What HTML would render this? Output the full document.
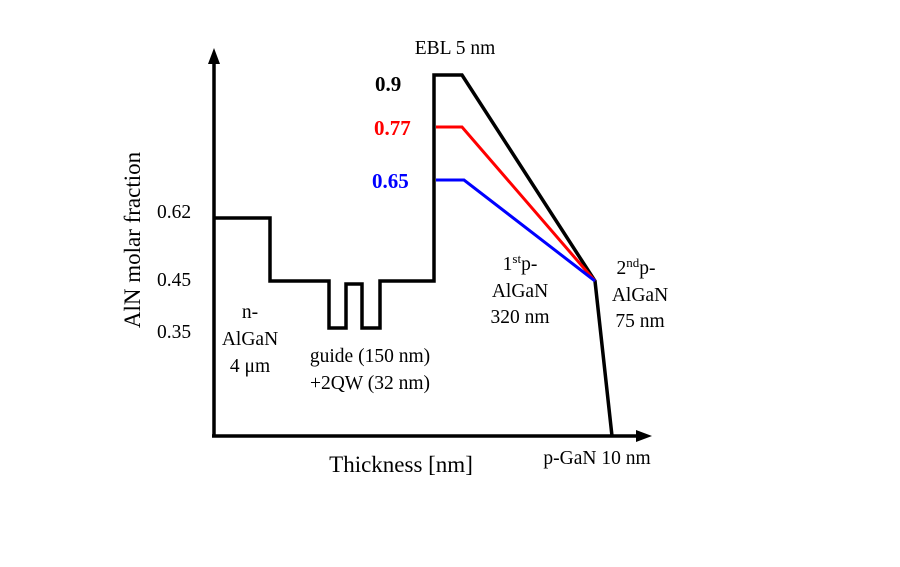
<!DOCTYPE html>
<html><head><style>
body{margin:0;background:#fff;}
svg{display:block;font-family:"Liberation Serif",serif;}
</style></head><body>
<svg width="900" height="567" viewBox="0 0 900 567">
<g stroke="#000" stroke-width="3.5" fill="none">
<line x1="214" y1="60" x2="214" y2="436"/>
<line x1="212" y1="436" x2="640" y2="436"/>
<polyline points="214,218 270,218 270,281 329,281 329,328 346,328 346,284 362,284 362,328 380,328 380,281 434,281 434,75 462,75 595,281 612,436" stroke-linejoin="miter"/>
</g>
<polygon points="214,48 208,64 220,64" fill="#000"/>
<polygon points="652,436 636,430 636,442" fill="#000"/>
<polyline points="436,127 462,127 595,281" stroke="#f00" stroke-width="3" fill="none"/>
<polyline points="436,180 464,180 595,281" stroke="#00f" stroke-width="3" fill="none"/>
<g font-size="21" font-weight="bold">
<text x="375" y="91">0.9</text>
<text x="374" y="135" fill="#f00">0.77</text>
<text x="372" y="188" fill="#00f">0.65</text>
</g>
<g font-size="19.5">
<text x="157" y="218">0.62</text>
<text x="157" y="286">0.45</text>
<text x="157" y="338">0.35</text>
<text x="455" y="54" text-anchor="middle">EBL 5 nm</text>
<text x="250" y="318" text-anchor="middle">n-</text>
<text x="250" y="345" text-anchor="middle">AlGaN</text>
<text x="250" y="372" text-anchor="middle">4 μm</text>
<text x="370" y="362" text-anchor="middle">guide (150 nm)</text>
<text x="370" y="389" text-anchor="middle">+2QW (32 nm)</text>
<text x="520" y="270" text-anchor="middle">1<tspan font-size="13" dy="-7">st</tspan><tspan dy="7">p-</tspan></text>
<text x="520" y="297" text-anchor="middle">AlGaN</text>
<text x="520" y="323" text-anchor="middle">320 nm</text>
<text x="636" y="274" text-anchor="middle">2<tspan font-size="13" dy="-7">nd</tspan><tspan dy="7">p-</tspan></text>
<text x="640" y="301" text-anchor="middle">AlGaN</text>
<text x="640" y="327" text-anchor="middle">75 nm</text>
<text x="597" y="464" text-anchor="middle">p-GaN 10 nm</text>
</g>
<text x="401" y="472" font-size="23" text-anchor="middle">Thickness [nm]</text>
<text transform="translate(140,240) rotate(-90)" font-size="23" text-anchor="middle">AlN molar fraction</text>
</svg>
</body></html>
